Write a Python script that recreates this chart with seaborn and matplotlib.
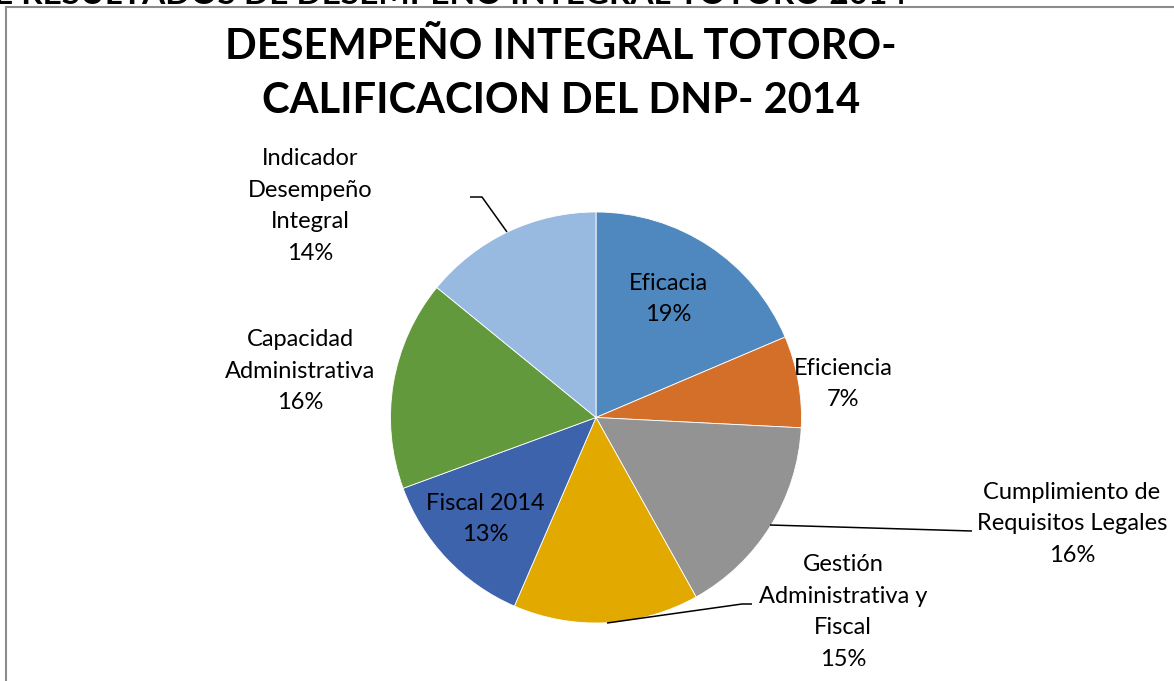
import seaborn as sns
import matplotlib.pyplot as plt
from matplotlib.patches import Rectangle

# data (percent shares)
categorias = ["Eficacia", "Eficiencia", "Cumplimiento de\nRequisitos Legales",
              "Gestión\nAdministrativa y\nFiscal", "Fiscal 2014",
              "Capacidad\nAdministrativa", "Indicador\nDesempeño\nIntegral"]
valores = [18.6, 7.2, 16.1, 14.6, 12.9, 16.5, 14.1]
colores = ["#4F88BE", "#D46F2A", "#939393", "#E2AA00", "#3D63AD", "#63993D", "#99BAE0"]

# label placement in pixel coords (x, y from top)
pos_etiquetas = [(668, 299), (843, 384), (1072, 524), (843, 612),
                 (485, 519), (300, 371), (310, 206)]
# leader lines (pixel coords) for outside labels
lineas = {2: [(770, 525), (972, 531)],
          3: [(607, 623), (742, 604), (752, 604)],
          6: [(507, 232), (482, 197), (470, 197)]}

W, H = 1174, 681
sns.set_theme(style="white")
plt.rcParams['font.family'] = ['Lato', 'DejaVu Sans']
plt.rcParams['text.color'] = 'black'

fig = plt.figure(figsize=(W / 100, H / 100), dpi=100)
ax = fig.add_axes([0, 0, 1, 1])

palette = sns.color_palette(colores)
cx, cy, r = 596, H - 417.5, 205.5
ax.pie(valores, colors=palette, startangle=90, counterclock=False,
       center=(cx, cy), radius=r, frame=True,
       wedgeprops=dict(edgecolor='white', linewidth=0.6))
ax.set_xlim(0, W)
ax.set_ylim(0, H)
ax.set_aspect('equal')
ax.axis('off')

total = sum(valores)
for i, (cat, v) in enumerate(zip(categorias, valores)):
    x, y = pos_etiquetas[i]
    ax.text(x, H - y, f"{cat}\n{round(v / total * 100):.0f}%", ha='center', va='center',
            fontsize=17, color='black', linespacing=1.62)

for i, pts in lineas.items():
    ax.plot([p[0] for p in pts], [H - p[1] for p in pts], color='black', lw=1.1,
            solid_capstyle='butt')

ax.text(561, H - 74, "DESEMPEÑO INTEGRAL TOTORO-\nCALIFICACION DEL DNP- 2014",
        ha='center', va='center', fontsize=30, fontweight='bold', color='black',
        linespacing=1.5)

# clipped heading from the page above the chart
ax.text(-6, H - 3.5, "E RESULTADOS DE DESEMPEÑO INTEGRAL TOTORO 2014",
        ha='left', va='baseline', fontsize=24, fontweight='bold', color='black')

fig.patches.append(Rectangle((6 / W, 0 - 0.01), 1.05, (H - 7) / H + 0.01,
                             transform=fig.transFigure, fill=False,
                             edgecolor='#8C8C8C', linewidth=1.5))

fig.savefig("out.png", dpi=100)
